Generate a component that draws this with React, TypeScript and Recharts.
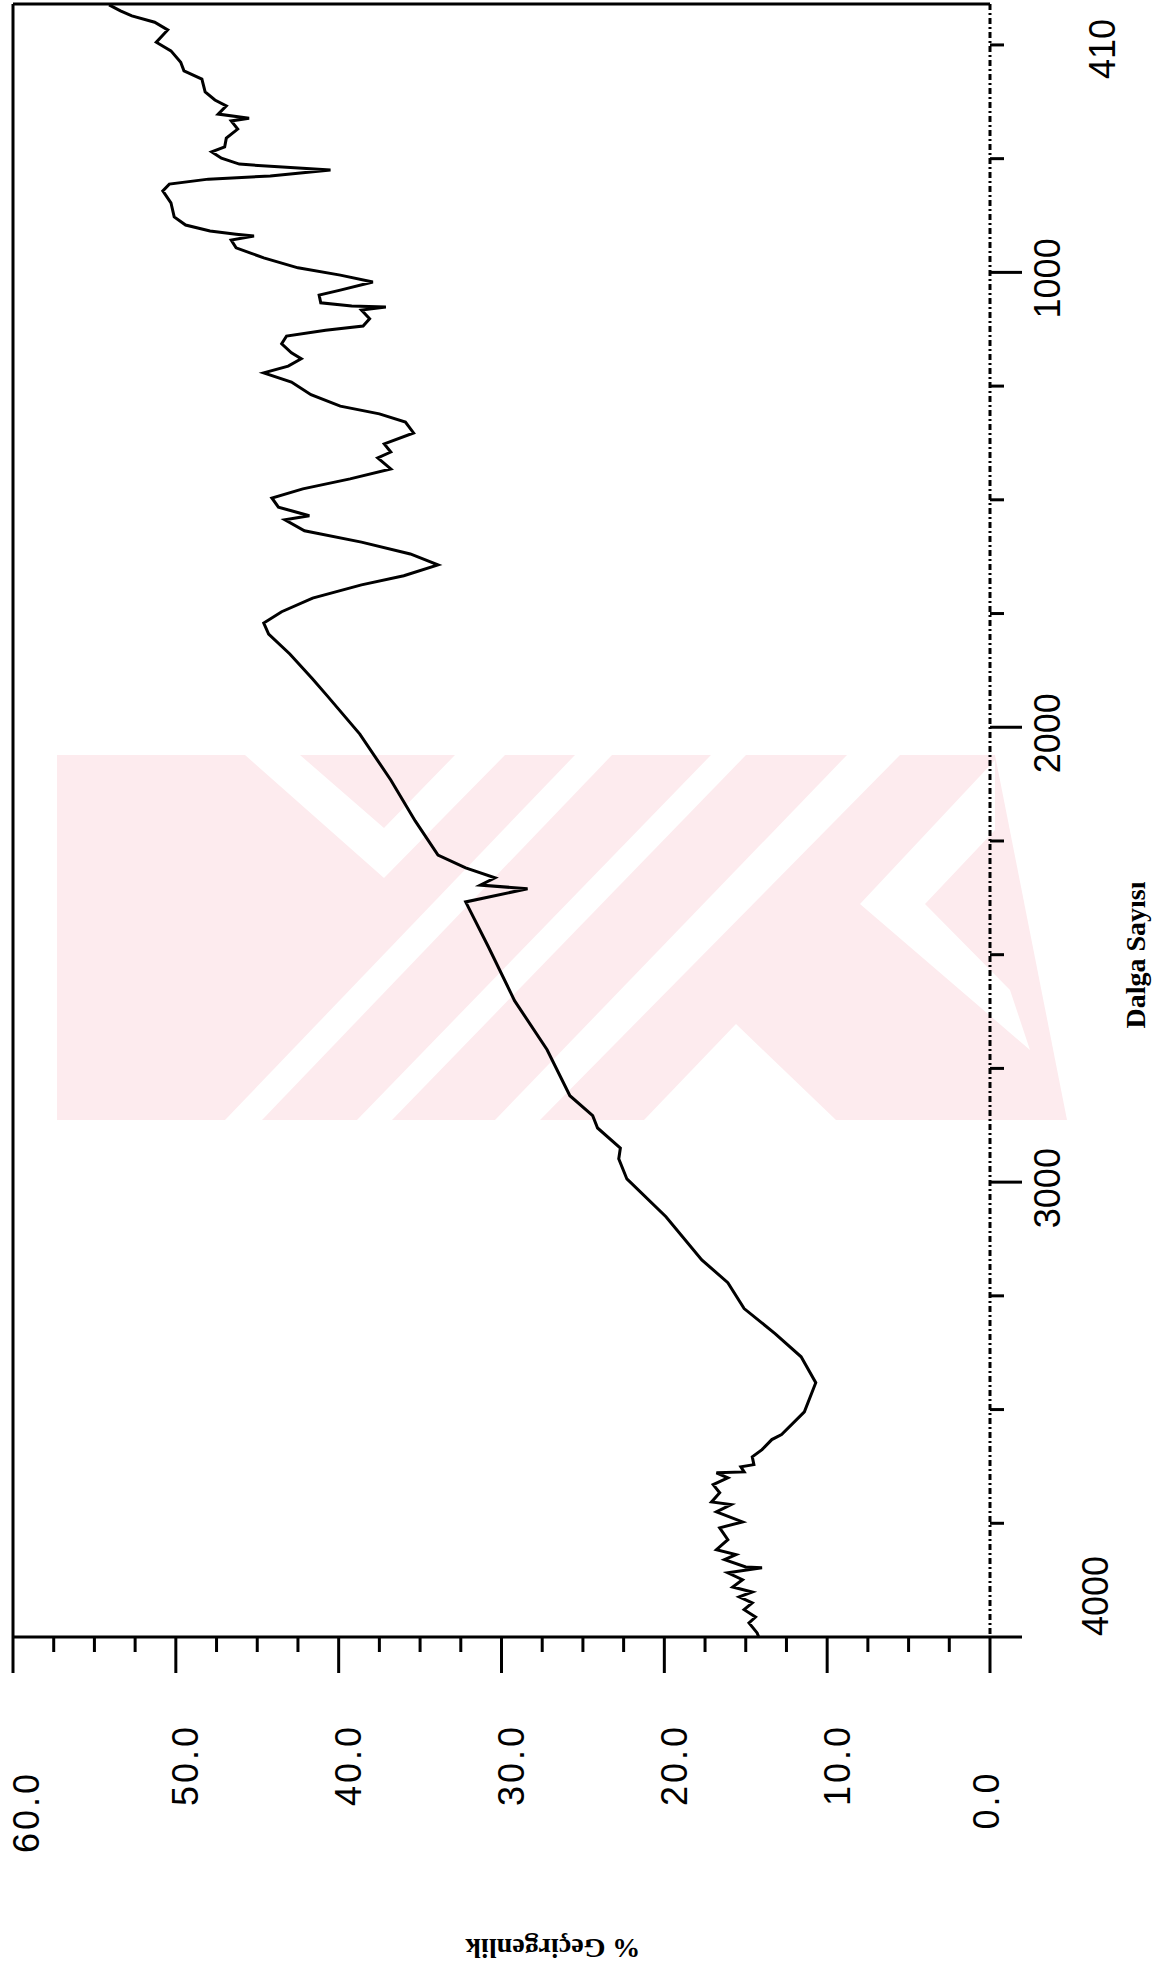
import React from 'react';
import { LineChart, Line, XAxis, YAxis, ReferenceLine } from 'recharts';

// IR spectrum, drawn rotated: wavenumber runs down the right side, % transmittance runs right-to-left
const wavenumbers = [
  412, 425, 436, 450, 467, 494, 513, 538, 557, 575, 603, 621, 634, 652, 661, 667, 685, 705, 724, 735,
  749, 762, 768, 775, 788, 795, 806, 821, 847, 878, 896, 909, 916, 920, 929, 946, 968, 990, 1006, 1021,
  1039, 1050, 1067, 1074, 1076, 1083, 1102, 1118, 1127, 1140, 1157, 1177, 1190, 1206, 1221, 1241, 1269, 1294, 1311, 1329,
  1353, 1377, 1395, 1408, 1432, 1454, 1476, 1496, 1516, 1535, 1544, 1568, 1593, 1619, 1643, 1667, 1687, 1716, 1746, 1771,
  1795, 1839, 1894, 1931, 2015, 2116, 2206, 2281, 2309, 2331, 2347, 2355, 2384, 2483, 2601, 2709, 2810, 2854, 2881, 2925,
  2949, 2993, 3076, 3171, 3221, 3278, 3333, 3384, 3441, 3505, 3555, 3566, 3588, 3604, 3621, 3626, 3637, 3639, 3650, 3665,
  3683, 3703, 3709, 3725, 3747, 3760, 3786, 3808, 3819, 3830, 3846, 3848, 3859, 3874, 3890, 3901, 3912, 3925, 3940, 3956,
  3969, 3991, 4000,
];

const transmittance = [
  54.1, 53.4, 52.7, 51.3, 50.5, 51.2, 50.3, 49.7, 49.5, 48.4, 48.2, 47.6, 46.9, 47.4, 45.5, 46.6, 46.2, 46.9, 47.0, 47.8,
  47.2, 46.1, 43.7, 40.5, 44.2, 48.0, 50.4, 50.8, 50.3, 50.1, 49.4, 47.9, 46.3, 45.2, 46.6, 46.3, 44.6, 42.5, 39.9, 37.9,
  39.9, 41.2, 41.1, 39.2, 37.1, 38.6, 38.1, 38.5, 40.8, 43.2, 43.5, 42.9, 42.3, 43.1, 44.6, 42.9, 41.7, 39.9, 37.5, 35.9,
  35.4, 37.2, 36.8, 37.6, 36.8, 39.3, 42.2, 44.1, 43.7, 41.8, 43.3, 42.1, 38.6, 35.6, 33.9, 36.0, 38.6, 41.6, 43.5, 44.6,
  44.3, 43.0, 41.6, 40.7, 38.7, 36.8, 35.3, 33.9, 32.2, 30.4, 31.3, 28.4, 32.2, 30.8, 29.2, 27.2, 25.8, 24.4, 24.1, 22.7,
  22.8, 22.3, 19.9, 17.7, 16.1, 15.1, 13.2, 11.6, 10.7, 11.4, 12.8, 13.4, 14.0, 14.6, 14.5, 15.3, 15.1, 16.8, 16.1, 17.0,
  16.6, 17.1, 15.9, 16.8, 15.2, 16.6, 16.1, 16.8, 15.6, 16.3, 15.0, 14.0, 16.1, 15.2, 15.8, 14.6, 15.4, 14.6, 15.1, 14.4,
  14.8, 14.3, 14.2,
];

const percentTicks = [
  0, 2.5, 5, 7.5, 10, 12.5, 15, 17.5, 20, 22.5, 25, 27.5, 30, 32.5, 35, 37.5, 40, 42.5, 45, 47.5, 50, 52.5, 55, 57.5, 60,
];
const percentMajor = [0, 10, 20, 30, 40, 50, 60];

const waveTicks = [410, 500, 750, 1000, 1250, 1500, 1750, 2000, 2250, 2500, 2750, 3000, 3250, 3500, 3750, 4000];
const waveMajor = [1000, 2000, 3000, 4000];
const waveLabels = ['410', '1000', '2000', '3000', '4000'];

const data = wavenumbers.map((wn, i) => ({ wn, t: transmittance[i] }));

const W = 1162;
const H = 1974;
const PLOT_LEFT = 13;
const PLOT_RIGHT = 990;
const PLOT_TOP = 4;
const PLOT_BOTTOM = 1637;
const X_AXIS_H = 30;
const Y_AXIS_W = 60;

const labelFont = "'Liberation Sans', Arial, sans-serif";
const titleFont = "'Liberation Serif', 'Times New Roman', serif";

const PercentTick = (props: any) => {
  const v = props.payload.value;
  const x = props.payload.coordinate;
  const major = percentMajor.includes(v);
  let lx = x + 10;
  let ly = 1765;
  if (v === 60) {
    lx = x + 13;
    ly = 1812;
  } else if (v === 0) {
    lx = x - 4;
    ly = 1800;
  }
  return (
    <g>
      <line x1={x} x2={x} y1={PLOT_BOTTOM} y2={PLOT_BOTTOM + (major ? 36 : 15)} stroke="#000" strokeWidth={3} />
      {major && (
        <text
          transform={`translate(${lx}, ${ly}) rotate(-90)`}
          textAnchor="middle"
          dominantBaseline="central"
          fontFamily={labelFont}
          fontSize={36}
          letterSpacing={3}
          fill="#000"
        >
          {v.toFixed(1)}
        </text>
      )}
    </g>
  );
};

const WaveTick = (props: any) => {
  const v = props.payload.value;
  const y = props.payload.coordinate;
  const label = waveLabels.includes(String(v)) ? String(v) : null;
  let lx = 1047;
  let ly = y + 6;
  if (v === 410) {
    lx = 1102;
    ly = y + 45;
  } else if (v === 4000) {
    lx = 1095;
    ly = y - 41;
  }
  return (
    <g>
      {v !== 410 && (
        <line
          x1={PLOT_RIGHT}
          x2={PLOT_RIGHT + (waveMajor.includes(v) ? 32 : 14)}
          y1={y}
          y2={y}
          stroke="#000"
          strokeWidth={3}
        />
      )}
      {label && (
        <text
          transform={`translate(${lx}, ${ly}) rotate(-90)`}
          textAnchor="middle"
          dominantBaseline="central"
          fontFamily={labelFont}
          fontSize={36}
          fill="#000"
        >
          {label}
        </text>
      )}
    </g>
  );
};

// faint pink watermark behind the plot
const wmBase = '57,755 995,755 1067,1120 57,1120';
const wmCuts = [
  '575,755 612,755 262,1120 225,1120',
  '711,755 746,755 392,1120 357,1120',
  '847,755 900,755 540,1120 495,1120',
  '245,755 300,755 384,828 455,755 505,755 384,878',
  '644,1120 736,1024 836,1120',
  '860,904 995,760 995,830 925,904 1010,990 1030,1050',
];

export default function App() {
  return (
    <div style={{ position: 'absolute', left: 0, top: 0, width: W, height: H, background: '#fff' }}>
      <svg width={W} height={H} style={{ position: 'absolute', left: 0, top: 0 }}>
        <polygon points={wmBase} fill="#fdebee" />
        {wmCuts.map((p, i) => (
          <polygon key={i} points={p} fill="#fff" />
        ))}
        <text
          transform="translate(1135, 955) rotate(-90)"
          textAnchor="middle"
          dominantBaseline="central"
          fontFamily={titleFont}
          fontWeight="bold"
          fontSize={28}
          fill="#000"
        >
          Dalga Sayısı
        </text>
        <text
          transform="translate(553, 1948) rotate(180)"
          textAnchor="middle"
          dominantBaseline="central"
          fontFamily={titleFont}
          fontWeight="bold"
          fontSize={28}
          fill="#000"
        >
          % Geçirgenlik
        </text>
      </svg>
      <div style={{ position: 'absolute', left: 0, top: 0 }}>
        <LineChart
          width={W}
          height={H}
          data={data}
          layout="vertical"
          margin={{
            top: PLOT_TOP,
            left: PLOT_LEFT,
            right: W - PLOT_RIGHT - Y_AXIS_W,
            bottom: H - PLOT_BOTTOM - X_AXIS_H,
          }}
        >
          <XAxis
            type="number"
            dataKey="t"
            domain={[0, 60]}
            reversed
            ticks={percentTicks}
            interval={0}
            height={X_AXIS_H}
            tickLine={false}
            axisLine={{ stroke: '#000', strokeWidth: 3 }}
            tick={<PercentTick />}
          />
          <YAxis
            type="number"
            dataKey="wn"
            orientation="right"
            domain={[410, 4000]}
            ticks={waveTicks}
            interval={0}
            width={Y_AXIS_W}
            tickLine={false}
            axisLine={{ stroke: '#000', strokeWidth: 3, strokeDasharray: '6 3 2 3' }}
            tick={<WaveTick />}
          />
          <ReferenceLine y={410} stroke="#000" strokeWidth={3} />
          <ReferenceLine x={60} stroke="#000" strokeWidth={3} />
          <Line
            type="linear"
            dataKey="t"
            stroke="#000"
            strokeWidth={3}
            dot={false}
            isAnimationActive={false}
          />
        </LineChart>
      </div>
    </div>
  );
}
